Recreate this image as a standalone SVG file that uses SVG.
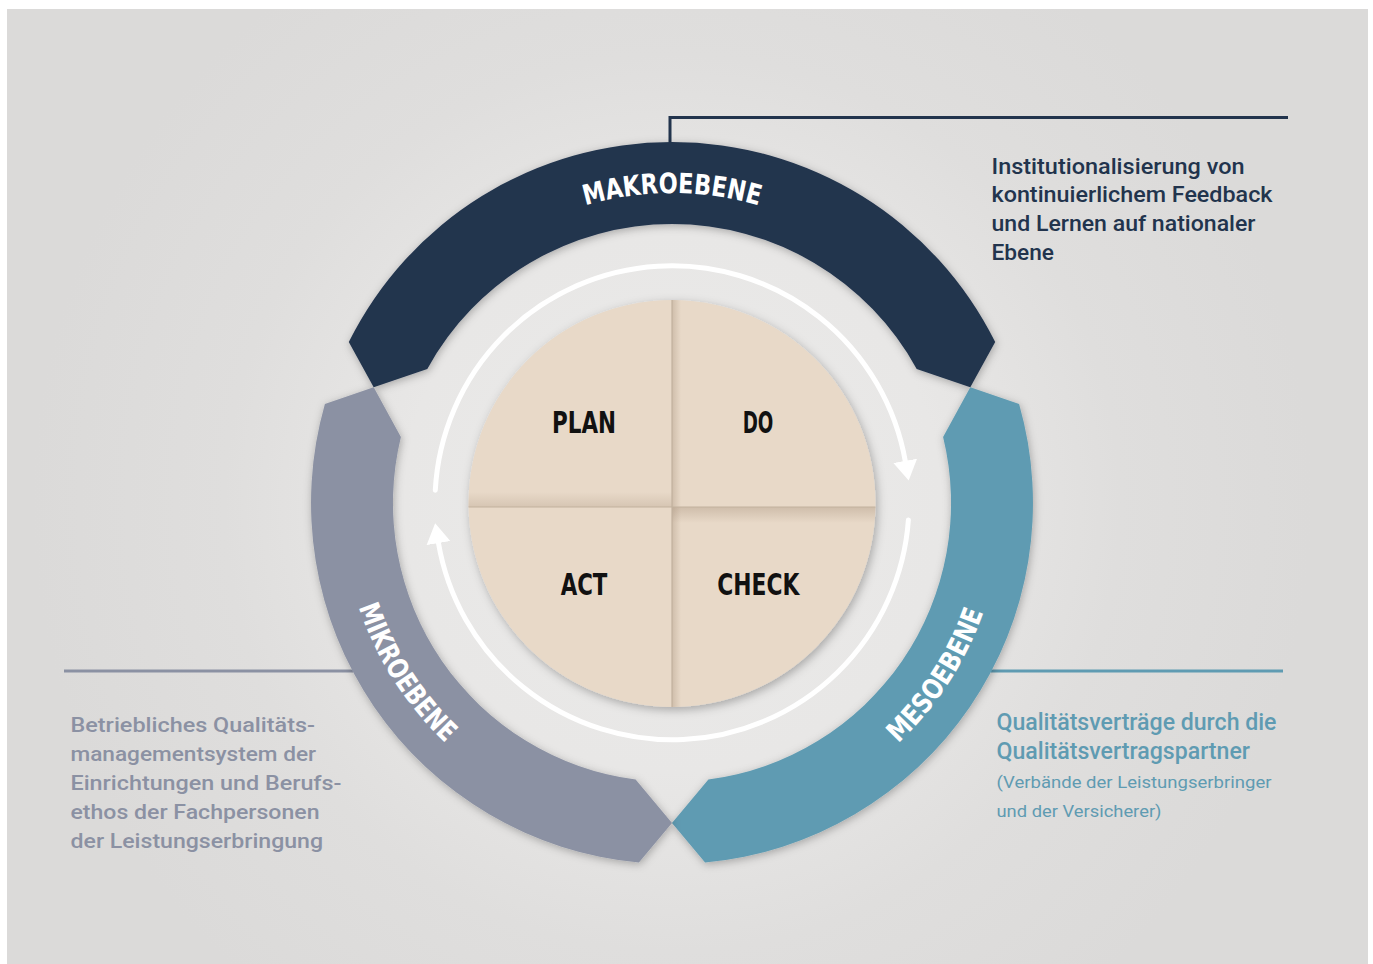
<svg xmlns="http://www.w3.org/2000/svg" width="1373" height="964" viewBox="0 0 1373 964">
<defs>
<radialGradient id="bg" gradientUnits="userSpaceOnUse" cx="672" cy="503" r="640">
<stop offset="0" stop-color="#ebebea"/>
<stop offset="0.42" stop-color="#e8e7e6"/>
<stop offset="0.7" stop-color="#dfdedd"/>
<stop offset="1" stop-color="#dbdad9"/>
</radialGradient>
<linearGradient id="vs" x1="0" y1="0" x2="1" y2="0">
<stop offset="0" stop-color="#a08a74" stop-opacity="0.35"/>
<stop offset="1" stop-color="#a08a74" stop-opacity="0"/>
</linearGradient>
<linearGradient id="hsd" x1="0" y1="0" x2="0" y2="1">
<stop offset="0" stop-color="#a08a74" stop-opacity="0.35"/>
<stop offset="1" stop-color="#a08a74" stop-opacity="0"/>
</linearGradient>
<linearGradient id="hsu" x1="0" y1="1" x2="0" y2="0">
<stop offset="0" stop-color="#a08a74" stop-opacity="0.25"/>
<stop offset="1" stop-color="#a08a74" stop-opacity="0"/>
</linearGradient>
<clipPath id="pieclip"><circle cx="672" cy="503.5" r="203.5"/></clipPath>
<filter id="sh" x="-20%" y="-20%" width="140%" height="140%">
<feDropShadow dx="1" dy="2" stdDeviation="4" flood-color="#000" flood-opacity="0.28"/>
</filter>
<filter id="psh" x="-20%" y="-20%" width="140%" height="140%">
<feDropShadow dx="2" dy="3" stdDeviation="5" flood-color="#000" flood-opacity="0.28"/>
</filter>
<marker id="ah" markerUnits="userSpaceOnUse" viewBox="0 0 21 26" markerWidth="21" markerHeight="26" refX="1" refY="13" orient="auto">
<path d="M0 1 L20 13 L0 25 Z" fill="#fff"/>
</marker>
<path id="tpMakro" d="M 380.7 397 A 310 310 0 0 1 963.3 397"/>
<path id="tpMikro" d="M 372.9 363.5 A 330 330 0 0 0 672 833"/>
<path id="tpMeso" d="M 672 833 A 330 330 0 0 0 973.5 368.8"/>
</defs>
<style>
.lbl{font-family:"Liberation Sans Narrow","DejaVu Sans Condensed","Liberation Sans",sans-serif;font-weight:bold;font-size:28px;fill:#fff}
.pdca{font-family:"Liberation Sans Narrow","DejaVu Sans Condensed","Liberation Sans",sans-serif;font-weight:bold;font-size:30px;fill:#111}
.desc{font-family:"Roboto","Liberation Sans",sans-serif;font-weight:500}
.navy{fill:#22344d}
.grey{fill:#8b91a3}
.teal{fill:#5f9bb2}
.cyc{fill:none;stroke:#fff;stroke-width:5;stroke-linecap:round}
</style>
<rect x="0" y="0" width="1373" height="964" fill="#fff"/>
<rect x="7" y="9" width="1361" height="955" fill="url(#bg)"/>

<g id="connectors">
<path d="M 670 143 L 670 117.5 L 1288 117.5" fill="none" stroke="#22344d" stroke-width="3"/>
<path d="M 64 671 L 353 671" fill="none" stroke="#8b91a3" stroke-width="3"/>
<path d="M 991 671 L 1283 671" fill="none" stroke="#5f9bb2" stroke-width="3"/>
<path class="cyc" d="M 435.3 490.2 A 237 237 0 0 1 905.4 461.8" marker-end="url(#ah)"/>
<path class="cyc" d="M 908.4 519.9 A 237 237 0 0 1 438.3 542.1" marker-end="url(#ah)"/>
</g>

<g id="makroebene">
<path d="M 348.8 342.1 A 361 361 0 0 1 995.2 342.1 L 970.3 387.3 L 916.7 369 A 279 279 0 0 0 427.3 369 L 373.7 387.3 Z" fill="#22344d" filter="url(#sh)"/>
<text class="lbl"><textPath href="#tpMakro" startOffset="50%" text-anchor="middle" textLength="176" lengthAdjust="spacingAndGlyphs">MAKROEBENE</textPath></text>
</g>
<g id="mesoebene">
<path d="M 1019.1 403.9 A 361 361 0 0 1 705.1 862.5 L 672 823 L 708.4 779.6 A 279 279 0 0 0 943.1 436.9 L 970.3 387.3 Z" fill="#5f9bb2" filter="url(#sh)"/>
<text class="lbl"><textPath href="#tpMeso" startOffset="50%" text-anchor="middle" textLength="158" lengthAdjust="spacingAndGlyphs">MESOEBENE</textPath></text>
</g>
<g id="mikroebene">
<path d="M 638.9 862.5 A 361 361 0 0 1 324.9 403.9 L 373.7 387.3 L 400.9 436.9 A 279 279 0 0 0 635.6 779.6 L 672 823 Z" fill="#8b91a3" filter="url(#sh)"/>
<text class="lbl"><textPath href="#tpMikro" startOffset="50%" text-anchor="middle" textLength="163" lengthAdjust="spacingAndGlyphs">MIKROEBENE</textPath></text>
</g>

<g id="pdca">
<circle cx="672" cy="503.5" r="203.5" fill="#e8d9c8" filter="url(#psh)"/>
<g clip-path="url(#pieclip)">
<rect x="468" y="492" width="204" height="15" fill="url(#hsu)"/>
<rect x="672" y="507" width="204" height="16" fill="url(#hsd)"/>
<rect x="672" y="300" width="9" height="408" fill="url(#vs)"/>
<line x1="672" y1="300" x2="672" y2="708" stroke="#c2b19e" stroke-width="1.2"/>
<line x1="468" y1="507" x2="876" y2="507" stroke="#c2b19e" stroke-width="1.2"/>
</g>
</g>
<g id="plan"><text class="pdca" x="552" y="433.3" textLength="64" lengthAdjust="spacingAndGlyphs">PLAN</text></g>
<g id="do"><text class="pdca" x="742.7" y="433.3" textLength="30.7" lengthAdjust="spacingAndGlyphs">DO</text></g>
<g id="act"><text class="pdca" x="560.7" y="595" textLength="46.7" lengthAdjust="spacingAndGlyphs">ACT</text></g>
<g id="check"><text class="pdca" x="717.3" y="595" textLength="82" lengthAdjust="spacingAndGlyphs">CHECK</text></g>

<g id="makro-text" class="desc navy" font-size="22">
<text x="991.5" y="174" textLength="253" lengthAdjust="spacingAndGlyphs">Institutionalisierung von</text>
<text x="991.5" y="202" textLength="281" lengthAdjust="spacingAndGlyphs">kontinuierlichem Feedback</text>
<text x="991.5" y="231" textLength="264" lengthAdjust="spacingAndGlyphs">und Lernen auf nationaler</text>
<text x="991.5" y="259.5" textLength="62.5" lengthAdjust="spacingAndGlyphs">Ebene</text>
</g>
<g id="mikro-text" class="desc grey" font-size="21">
<text x="70.5" y="731.7" textLength="244.5" lengthAdjust="spacingAndGlyphs">Betriebliches Qualitäts-</text>
<text x="70.5" y="761" textLength="245.5" lengthAdjust="spacingAndGlyphs">managementsystem der</text>
<text x="70.5" y="790" textLength="271" lengthAdjust="spacingAndGlyphs">Einrichtungen und Berufs-</text>
<text x="70.5" y="819.3" textLength="249" lengthAdjust="spacingAndGlyphs">ethos der Fachpersonen</text>
<text x="70.5" y="848.3" textLength="252.5" lengthAdjust="spacingAndGlyphs">der Leistungserbringung</text>
</g>
<g id="meso-text" class="desc teal">
<text x="996.5" y="730" font-size="23" textLength="280" lengthAdjust="spacingAndGlyphs">Qualitätsverträge durch die</text>
<text x="996.5" y="759.3" font-size="23" textLength="253.5" lengthAdjust="spacingAndGlyphs">Qualitätsvertragspartner</text>
<text x="996.5" y="788.3" font-size="17" font-weight="400" textLength="275" lengthAdjust="spacingAndGlyphs">(Verbände der Leistungserbringer</text>
<text x="996.5" y="816.7" font-size="17" font-weight="400" textLength="165" lengthAdjust="spacingAndGlyphs">und der Versicherer)</text>
</g>
</svg>
